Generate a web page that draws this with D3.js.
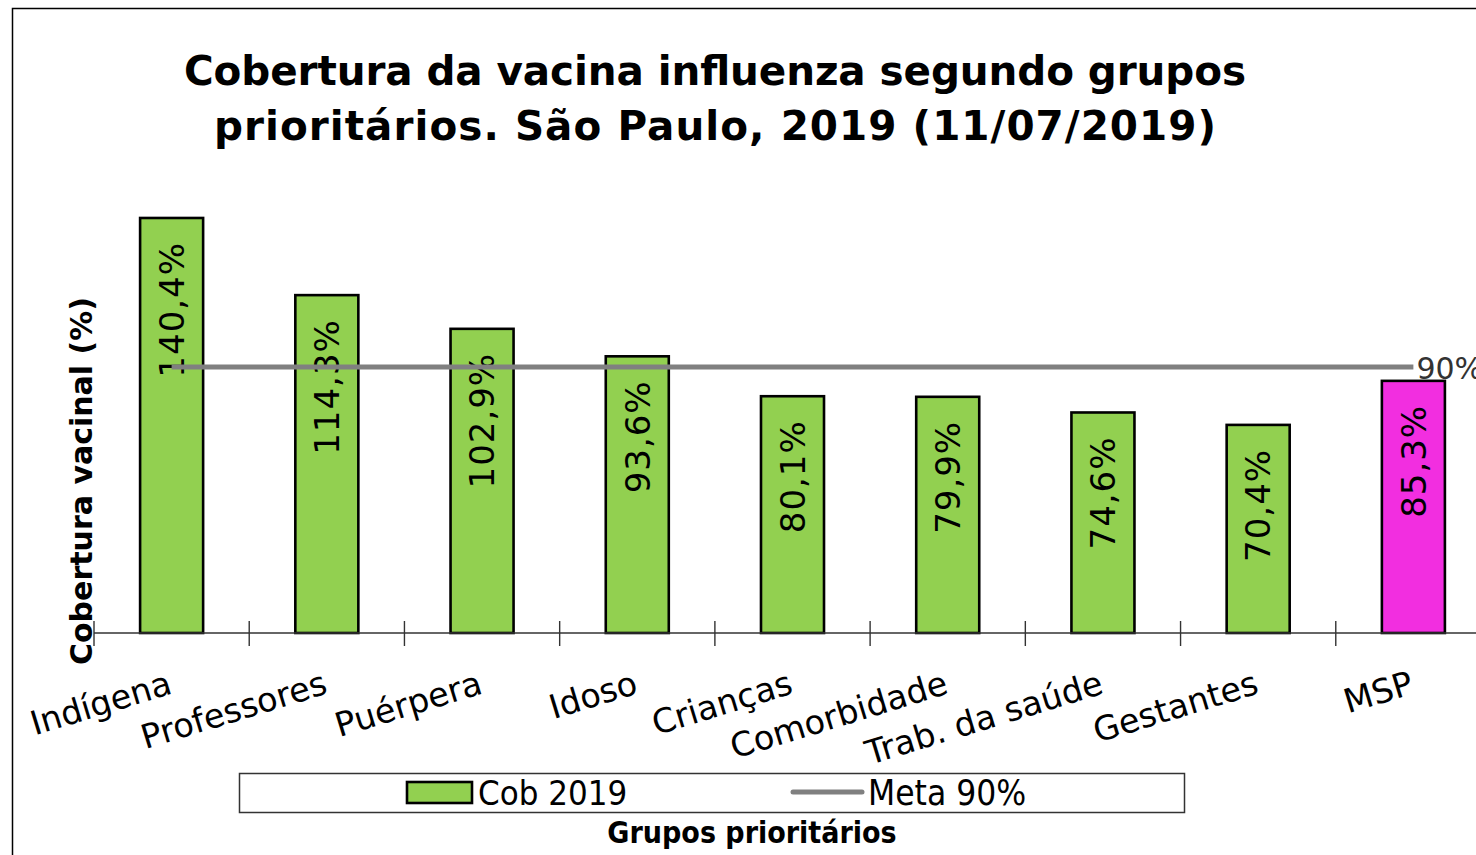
<!DOCTYPE html>
<html>
<head>
<meta charset="utf-8">
<script src="https://cdn.jsdelivr.net/npm/d3@7"></script>
<style>
  html, body { margin: 0; padding: 0; background: #fff; }
  svg { display: block; }
</style>
</head>
<body>
<svg id="chart" width="1476" height="855"></svg>
<script>
const categories = ["Indígena", "Professores", "Puérpera", "Idoso", "Crianças", "Comorbidade", "Trab. da saúde", "Gestantes", "MSP"];
const coverage = [140.4, 114.3, 102.9, 93.6, 80.1, 79.9, 74.6, 70.4, 85.3];
const valueLabels = ["140,4%", "114,3%", "102,9%", "93,6%", "80,1%", "79,9%", "74,6%", "70,4%", "85,3%"];
const metaValues = [90, 90, 90, 90, 90, 90, 90, 90, 90];
const metaLabel = "90%";
const titleLines = ["Cobertura da vacina influenza segundo grupos", "prioritários. São Paulo, 2019 (11/07/2019)"];
const yTitle = "Cobertura vacinal (%)";
const xTitle = "Grupos prioritários";
const legendLabels = ["Cob 2019", "Meta 90%"];

const GREEN = "#92D050", MAGENTA = "#F22EE0", GRAY = "#808080";

const svg = d3.select("#chart");

// outer frame
svg.append("rect").attr("x", 12.5).attr("y", 8.5).attr("width", 1500).attr("height", 900)
  .attr("fill", "none").attr("stroke", "#000").attr("stroke-width", 1.5);

const x = d3.scaleBand().domain(categories).range([94, 1491]).paddingInner(0.594).paddingOuter(0.297);
const y = d3.scaleLinear().domain([0, 150]).range([633, 633 - 150 * 2.956]);
const half = (x.step() - x.bandwidth()) / 2;

// title
const titleWidths = [1062, 1002];
const title = svg.append("text").attr("text-anchor", "middle")
  .attr("font-family", "DejaVu Sans, Verdana, sans-serif").attr("font-weight", "bold")
  .attr("font-size", 40.5).attr("fill", "#000");
titleLines.forEach((t, i) => {
  title.append("tspan").attr("x", 715).attr("y", 85 + i * 55)
    .attr("textLength", titleWidths[i]).attr("lengthAdjust", "spacing").text(t);
});

// bars
svg.append("g").selectAll("rect").data(categories).join("rect")
  .attr("x", d => x(d)).attr("y", (d, i) => y(coverage[i]))
  .attr("width", x.bandwidth()).attr("height", (d, i) => y(0) - y(coverage[i]))
  .attr("fill", (d, i) => d === "MSP" ? MAGENTA : GREEN)
  .attr("stroke", "#000").attr("stroke-width", 2.6);

// x axis line and ticks
const axisG = svg.append("g");
axisG.append("line").attr("x1", x.range()[0]).attr("x2", x.range()[1])
  .attr("y1", y(0)).attr("y2", y(0)).attr("stroke", "#333").attr("stroke-width", 1.4);
const tickPos = categories.map(c => x(c) - half).concat([x(categories[categories.length - 1]) + x.bandwidth() + half]);
axisG.selectAll("line.tick").data(tickPos).join("line").attr("class", "tick")
  .attr("x1", d => d).attr("x2", d => d).attr("y1", y(0) - 12).attr("y2", y(0) + 13)
  .attr("stroke", "#333").attr("stroke-width", 1.4);

// value labels
svg.append("g").selectAll("text").data(categories).join("text")
  .attr("transform", (d, i) => `translate(${x(d) + x.bandwidth() / 2},${y(coverage[i]) + 24}) rotate(-90)`)
  .attr("text-anchor", "end").attr("dy", "0.36em")
  .attr("font-family", "DejaVu Sans, Verdana, sans-serif").attr("font-size", 34)
  .attr("letter-spacing", 1)
  .attr("fill", "#000")
  .text((d, i) => valueLabels[i]);

// meta line (drawn over the labels, as in the original)
const line = d3.line().x((d, i) => x(categories[i]) + x.bandwidth() / 2).y(d => y(d));
svg.append("path").datum(metaValues).attr("d", line)
  .attr("fill", "none").attr("stroke", GRAY).attr("stroke-width", 5);
svg.append("text")
  .attr("x", x(categories[categories.length - 1]) + x.bandwidth() / 2 + 3)
  .attr("y", y(metaValues[metaValues.length - 1])).attr("dy", "0.4em")
  .attr("font-family", "DejaVu Sans, Verdana, sans-serif").attr("font-size", 30)
  .attr("fill", "#333").text(metaLabel);

// x category labels
svg.append("g").selectAll("text").data(categories).join("text")
  .attr("transform", d => `translate(${x(d) + x.bandwidth() / 2 + 2},693) rotate(-17)`)
  .attr("text-anchor", "end")
  .attr("font-family", "DejaVu Sans, Verdana, sans-serif").attr("font-size", 33.5)
  .attr("fill", "#000").text(d => d);

// y title
svg.append("text").attr("transform", "translate(92,481) rotate(-90)")
  .attr("text-anchor", "middle")
  .attr("font-family", "DejaVu Sans, Verdana, sans-serif").attr("font-weight", "bold")
  .attr("font-size", 30).attr("fill", "#000").text(yTitle);

// legend
const lg = svg.append("g");
lg.append("rect").attr("x", 239.5).attr("y", 773.5).attr("width", 945).attr("height", 39)
  .attr("fill", "#fff").attr("stroke", "#333").attr("stroke-width", 1.5);
lg.append("rect").attr("x", 407).attr("y", 782).attr("width", 65).attr("height", 21)
  .attr("fill", GREEN).attr("stroke", "#000").attr("stroke-width", 2.6);
lg.append("text").attr("x", 478).attr("y", 805)
  .attr("font-family", "DejaVu Sans Condensed, DejaVu Sans, sans-serif").attr("font-size", 34.5)
  .attr("fill", "#000").text(legendLabels[0]);
lg.append("line").attr("x1", 793).attr("x2", 862).attr("y1", 792).attr("y2", 792)
  .attr("stroke", GRAY).attr("stroke-width", 5).attr("stroke-linecap", "round");
lg.append("text").attr("x", 868).attr("y", 805)
  .attr("font-family", "DejaVu Sans Condensed, DejaVu Sans, sans-serif").attr("font-size", 35)
  .attr("fill", "#000").text(legendLabels[1]);

// x title
svg.append("text").attr("x", 752).attr("y", 843).attr("text-anchor", "middle")
  .attr("font-family", "DejaVu Sans Condensed, DejaVu Sans, sans-serif").attr("font-weight", "bold")
  .attr("font-size", 30).attr("fill", "#000").text(xTitle);
</script>
</body>
</html>
